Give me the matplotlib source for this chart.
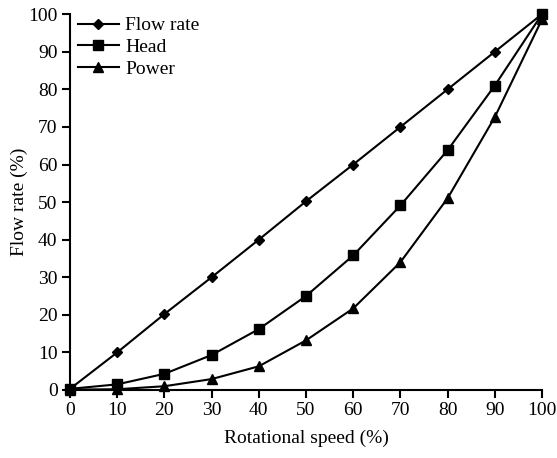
import matplotlib
matplotlib.use("Agg")
import matplotlib.pyplot as plt

plt.rcParams['font.family'] = ['Liberation Serif', 'DejaVu Serif']

speed = [0, 10, 20, 30, 40, 50, 60, 70, 80, 90, 100]
flow = [0.3, 10, 20.2, 30, 40, 50.2, 60, 70, 80, 90, 100]
head = [0.3, 1.5, 4.3, 9.3, 16.2, 25.0, 35.8, 49.1, 63.8, 81.0, 100]
power = [0.1, 0.2, 1.0, 2.9, 6.3, 13.2, 21.7, 34.0, 51.0, 72.6, 98.6]

fig = plt.figure(figsize=(5.57, 4.58), dpi=100)
ax = fig.add_axes([0.1257, 0.1485, 0.8473, 0.8205])

ax.plot(speed, flow, color='black', lw=1.5, marker='D', ms=5, label='Flow rate', clip_on=False)
ax.plot(speed, head, color='black', lw=1.5, marker='s', ms=7.5, label='Head', clip_on=False)
ax.plot(speed, power, color='black', lw=1.5, marker='^', ms=7.5, label='Power', clip_on=False)

ax.set_xlim(0, 100)
ax.set_ylim(0, 100)
ax.set_xticks(range(0, 101, 10))
ax.set_yticks(range(0, 101, 10))
ax.spines['top'].set_visible(False)
ax.spines['right'].set_visible(False)
for s in ['left', 'bottom']:
    ax.spines[s].set_linewidth(1.5)
ax.tick_params(direction='out', length=6, width=1.5, labelsize=14, pad=3)

ax.set_xlabel('Rotational speed (%)', fontsize=14, labelpad=7)
ax.set_ylabel('Flow rate (%)', fontsize=14, labelpad=0)

ax.legend(loc='upper left', bbox_to_anchor=(0, 1.014), frameon=False, fontsize=14,
          handlelength=2.1, labelspacing=0.22, borderaxespad=0, handletextpad=0.35)

fig.savefig('out.png', dpi=100)
